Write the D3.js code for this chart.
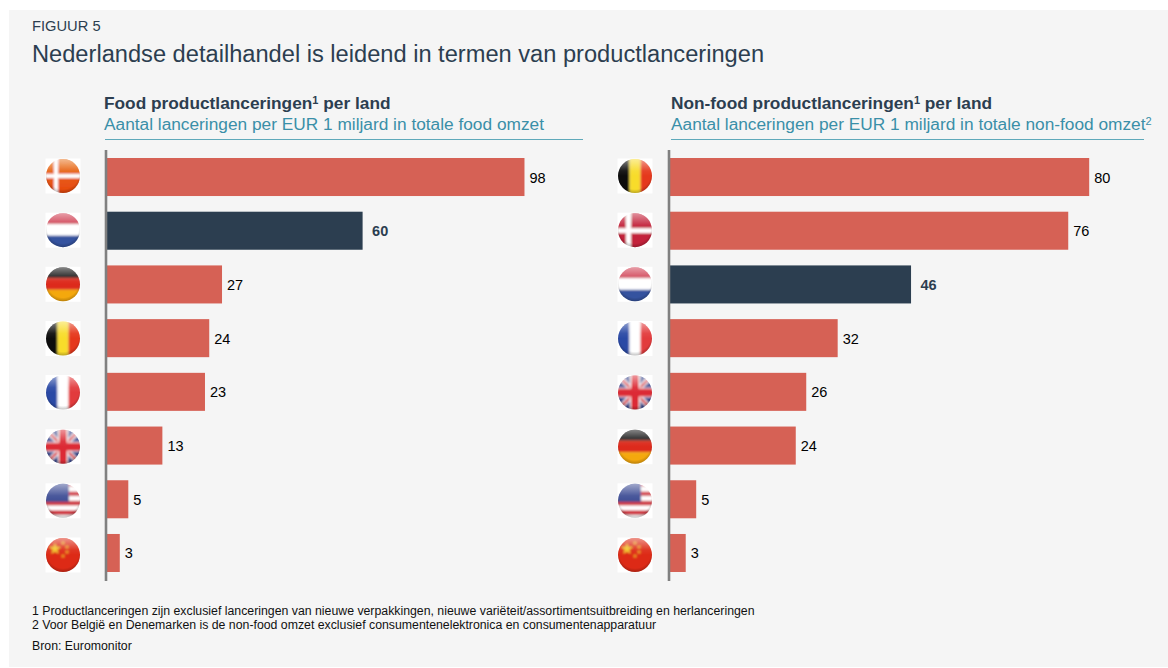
<!DOCTYPE html>
<html><head><meta charset="utf-8">
<script src="https://cdn.jsdelivr.net/npm/d3@7/dist/d3.min.js"></script>
<style>html,body{margin:0;padding:0;background:#fff}svg{display:block;font-family:"Liberation Sans",Arial,sans-serif}</style>
</head><body><svg id="c" width="1168" height="668"></svg>
<script>
const figureLabel = "FIGUUR 5";
const figureTitle = "Nederlandse detailhandel is leidend in termen van productlanceringen";
const foodCountries = ["DK","NL","DE","BE","FR","UK","US","CN"];
const foodValues = [98,60,27,24,23,13,5,3];
const nonFoodCountries = ["BE","DK","NL","FR","UK","DE","US","CN"];
const nonFoodValues = [80,76,46,32,26,24,5,3];
const footnotes = [
 "1 Productlanceringen zijn exclusief lanceringen van nieuwe verpakkingen, nieuwe variëteit/assortimentsuitbreiding en herlanceringen",
 "2 Voor België en Denemarken is de non-food omzet exclusief consumentenelektronica en consumentenapparatuur",
 "Bron: Euromonitor"];

const NAVY="#2c3e50", CORAL="#d66155", TEAL="#3a8fa8";
const svg=d3.select("#c");
const defs=svg.append("defs");
const gloss=defs.append("radialGradient").attr("id","gloss").attr("cx","50%").attr("cy","42%").attr("r","60%");
gloss.append("stop").attr("offset","78%").attr("stop-color","#000").attr("stop-opacity",0);
gloss.append("stop").attr("offset","100%").attr("stop-color","#000").attr("stop-opacity",.28);
const shine=defs.append("linearGradient").attr("id","shine").attr("x1",0).attr("x2",0).attr("y1",0).attr("y2",1);
shine.append("stop").attr("offset","0%").attr("stop-color","#fff").attr("stop-opacity",.5);
shine.append("stop").attr("offset","35%").attr("stop-color","#fff").attr("stop-opacity",.06);
shine.append("stop").attr("offset","50%").attr("stop-color","#fff").attr("stop-opacity",0);
const dkOrange=defs.append("linearGradient").attr("id","dkOrange").attr("x1",0).attr("x2",0).attr("y1",0).attr("y2",1);
dkOrange.append("stop").attr("offset","0%").attr("stop-color","#e8761c");
dkOrange.append("stop").attr("offset","100%").attr("stop-color","#e6440f");
defs.append("clipPath").attr("id","disc").append("circle").attr("r",17);
const soft=defs.append("filter").attr("id","soft").attr("x","-20%").attr("y","-20%").attr("width","140%").attr("height","140%");
soft.append("feGaussianBlur").attr("stdDeviation",.8);

svg.append("rect").attr("x",9).attr("y",10).attr("width",1159).attr("height",657).attr("fill","#f5f5f5");
svg.append("text").attr("x",32).attr("y",31).attr("font-size",14.7).attr("fill",NAVY).text(figureLabel);
svg.append("text").attr("x",32).attr("y",62).attr("font-size",23.65).attr("fill",NAVY).text(figureTitle);

const R=19;
function rects(g,list){ list.forEach(d=>g.append("rect").attr("x",d[0]).attr("y",d[1]).attr("width",d[2]).attr("height",d[3]).attr("fill",d[4])); }
const flags={
 DK(g,alt){rects(g,[[-R,-R,2*R,2*R,alt?"#c3243a":"url(#dkOrange)"],[-R,-2,2*R,alt?5:4,"#fff"],[-9,-R,alt?5:4,2*R,"#fff"]]);},
 NL(g){rects(g,[[-R,-R,2*R,13,"#cf3a50"],[-R,-6,2*R,11.5,"#fff"],[-R,5.5,2*R,14,"#34529f"]]);},
 DE(g){rects(g,[[-R,-R,2*R,13,"#111"],[-R,-6,2*R,11.5,"#dd2a1c"],[-R,5.5,2*R,14,"#f4a80d"]]);},
 BE(g){rects(g,[[-R,-R,13.5,2*R,"#0a0a0a"],[-5.5,-R,11,2*R,"#f8dc2b"],[5.5,-R,14,2*R,"#e5391c"]]);},
 FR(g){rects(g,[[-R,-R,13.5,2*R,"#2b4aa5"],[-5.5,-R,11,2*R,"#fff"],[5.5,-R,14,2*R,"#e23a3e"]]);},
 UK(g){rects(g,[[-R,-R,2*R,2*R,"#2d3f8c"]]);
  [[-R,-R,R,R],[-R,R,R,-R]].forEach(l=>{g.append("line").attr("x1",l[0]).attr("y1",l[1]).attr("x2",l[2]).attr("y2",l[3]).attr("stroke","#fff").attr("stroke-width",5);
   g.append("line").attr("x1",l[0]).attr("y1",l[1]).attr("x2",l[2]).attr("y2",l[3]).attr("stroke","#d8343c").attr("stroke-width",2.4);});
  rects(g,[[-R,-5,2*R,10,"#fff"],[-5,-R,10,2*R,"#fff"],[-R,-4,2*R,8,"#dc2c34"],[-4,-R,8,2*R,"#dc2c34"]]);},
 US(g){d3.range(8).forEach(i=>rects(g,[[-R,-R+i*4.75,2*R,4.75,i%2?"#fff":"#cf3a44"]]));
  rects(g,[[-R,-R,R+6,20,"#3f4f96"]]);},
 CN(g){rects(g,[[-R,-R,2*R,2*R,"#dd2a18"]]);
  g.append("path").attr("d",d3.symbol(d3.symbolStar,45)()).attr("transform","translate(-8,-6)").attr("fill","#f2c52a");
  [[0,-12],[4,-8],[4,-3],[0,1]].forEach(p=>g.append("path").attr("d",d3.symbol(d3.symbolStar,7)()).attr("transform",`translate(${p[0]},${p[1]})`).attr("fill","#eda62a"));}
};

function panel(o){
 const y=d3.scaleBand().domain(o.countries).range([158,572]).paddingInner(.292);
 const fy=d3.scalePoint().domain(o.countries).range([176,555]);
 const x=d3.scaleLinear().domain([0,100]).range([o.x0,o.x0+o.perHundred]);
 const head=svg.append("text").attr("x",o.tx).attr("y",109).attr("font-size",17.3).attr("font-weight","bold").attr("fill",NAVY);
 head.append("tspan").text(o.head);
 head.append("tspan").attr("font-size",11).attr("dy",-5.5).text("1");
 head.append("tspan").attr("dy",5.5).text(" per land");
 const sub=svg.append("text").attr("x",o.tx).attr("y",130).attr("font-size",17.3).attr("fill",TEAL);
 sub.append("tspan").text(o.sub);
 if(o.subNote){sub.append("tspan").attr("font-size",11).attr("dy",-5.5).text(o.subNote);}
 svg.append("line").attr("x1",o.rx1).attr("x2",o.rx2).attr("y1",139.5).attr("y2",139.5).attr("stroke","#5fa9ba").attr("stroke-width",1);
 const data=o.countries.map((c,i)=>({c,v:o.values[i]}));
 svg.append("g").selectAll("rect").data(data).join("rect")
  .attr("x",x(0)).attr("y",d=>y(d.c)).attr("width",d=>x(d.v)-x(0)).attr("height",y.bandwidth())
  .attr("fill",d=>d.c==="NL"?NAVY:CORAL);
 svg.append("line").attr("x1",o.x0-1).attr("x2",o.x0-1).attr("y1",150).attr("y2",581).attr("stroke","#808080").attr("stroke-width",2.6);
 svg.append("g").selectAll("text").data(data).join("text")
  .attr("x",d=>x(d.v)+(d.c==="NL"?9.5:5)).attr("y",d=>y(d.c)+y.bandwidth()/2+5.5)
  .attr("font-size",14.5).attr("font-weight",d=>d.c==="NL"?"bold":"normal").attr("fill",d=>d.c==="NL"?NAVY:"#000").text(d=>d.v);
 data.forEach(d=>{
  const g=svg.append("g").attr("transform",`translate(${o.fx},${fy(d.c)})`);
  g.append("rect").attr("x",-17.5).attr("y",-17.5).attr("width",35).attr("height",35).attr("fill","#fff");
  const f=g.append("g").attr("clip-path","url(#disc)").append("g").attr("filter","url(#soft)");
  flags[d.c](f,o.altDK);
  g.append("circle").attr("r",17).attr("fill","url(#shine)");
  g.append("circle").attr("r",17).attr("fill","url(#gloss)");
 });
}
panel({countries:foodCountries,values:foodValues,x0:107,perHundred:426,tx:104,rx1:105,rx2:583,fx:63,
 head:"Food productlanceringen",sub:"Aantal lanceringen per EUR 1 miljard in totale food omzet"});
panel({countries:nonFoodCountries,values:nonFoodValues,x0:670,perHundred:524,tx:671,rx1:671,rx2:1144,fx:635,altDK:true,
 head:"Non-food productlanceringen",sub:"Aantal lanceringen per EUR 1 miljard in totale non-food omzet",subNote:"2"});

svg.append("g").selectAll("text").data(footnotes).join("text").attr("x",32)
 .attr("y",(d,i)=>[615,629,650][i]).attr("font-size",12.3).attr("fill","#111").text(d=>d);
</script></body></html>
